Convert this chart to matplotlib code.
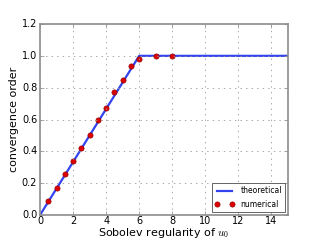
import matplotlib
matplotlib.use("Agg")
import matplotlib.pyplot as plt

theory_x = [0, 6, 15]
theory_y = [0, 1, 1]

num_x = [0.5, 1, 1.5, 2, 2.5, 3, 3.5, 4, 4.5, 5, 5.5, 6, 7, 8]
num_y = [0.09, 0.17, 0.26, 0.34, 0.42, 0.50, 0.595, 0.675, 0.775, 0.85, 0.935, 0.98, 1.0, 1.0]


def main():
    plt.style.use("classic")
    fig = plt.figure(figsize=(3.2, 2.4), dpi=100)
    ax = fig.add_axes([0.125, 0.104, 0.775, 0.796])
    ax.plot(theory_x, theory_y, "-", color="#3344ee", lw=1.6, label="theoretical")
    ax.plot(num_x, num_y, "o", color="#dd0000", ms=3.8, mec="#880000", mew=0.4,
            label="numerical")
    ax.set_xlim(0, 15)
    ax.set_ylim(0, 1.2)
    ax.tick_params(labelsize=7, pad=2, color="0.55", length=3)
    ax.tick_params(axis="x", pad=1)
    for s in ax.spines.values():
        s.set_color("0.55")
        s.set_linewidth(1.2)
    ax.set_xlabel("Sobolev regularity of $u_0$", fontsize=8, labelpad=-0.5)
    ax.set_ylabel("convergence order", fontsize=8, labelpad=2)
    ax.grid(True, color="0.6", lw=0.6)
    leg = ax.legend(loc="lower right", fontsize=5.5, numpoints=2,
                    borderaxespad=0.4, handlelength=2.5, labelspacing=0.6)
    leg.get_frame().set_edgecolor("0.3")
    leg.get_frame().set_linewidth(0.6)
    fig.savefig("out.png", dpi=100)


if __name__ == "__main__":
    main()
